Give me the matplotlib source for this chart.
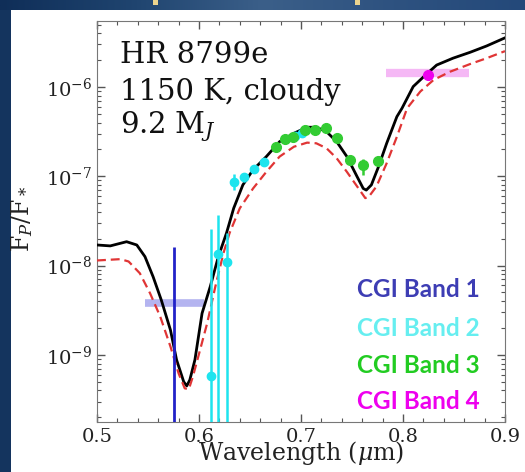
import matplotlib
matplotlib.use("Agg")
import matplotlib.pyplot as plt
from matplotlib.patches import Rectangle
from matplotlib.ticker import MultipleLocator, LogLocator, NullFormatter
import numpy as np

# model spectra (wavelength in micron, Fp/F*)
model_wl = [0.500, 0.513, 0.529, 0.539, 0.547, 0.555, 0.563, 0.572, 0.578, 0.585,
            0.588, 0.591, 0.596, 0.603, 0.611, 0.619, 0.627, 0.634, 0.643, 0.653,
            0.666, 0.679, 0.693, 0.706, 0.715, 0.725, 0.735, 0.745, 0.755, 0.761,
            0.764, 0.769, 0.776, 0.784, 0.794, 0.799, 0.810, 0.822, 0.833, 0.849,
            0.866, 0.882, 0.900]
model_flux = [1.70e-8, 1.66e-8, 1.85e-8, 1.70e-8, 1.26e-8, 7.5e-9, 4.12e-9, 1.90e-9, 8.8e-10, 5.0e-10,
              4.49e-10, 5.24e-10, 8.8e-10, 2.92e-9, 5.8e-9, 1.26e-8, 2.32e-8, 4.38e-8, 8.0e-8, 1.18e-7,
              1.66e-7, 2.44e-7, 3.03e-7, 3.54e-7, 3.54e-7, 3.16e-7, 2.44e-7, 1.66e-7, 9.9e-8, 7.3e-8,
              7.0e-8, 8.0e-8, 1.28e-7, 2.34e-7, 4.65e-7, 5.77e-7, 1.01e-6, 1.36e-6, 1.76e-6, 2.10e-6,
              2.45e-6, 2.88e-6, 3.55e-6]

alt_wl = [0.500, 0.523, 0.531, 0.542, 0.552, 0.562, 0.572, 0.580, 0.586, 0.590,
          0.594, 0.601, 0.608, 0.616, 0.624, 0.630, 0.640, 0.653, 0.666, 0.679,
          0.693, 0.706, 0.715, 0.725, 0.735, 0.745, 0.755, 0.763, 0.766, 0.774,
          0.784, 0.794, 0.804, 0.817, 0.830, 0.846, 0.866, 0.882, 0.900]
alt_flux = [1.14e-8, 1.18e-8, 1.11e-8, 8.2e-9, 4.9e-9, 2.68e-9, 1.24e-9, 6.2e-10, 4.22e-10, 4.12e-10,
            5.7e-10, 1.13e-9, 2.26e-9, 5.8e-9, 1.38e-8, 2.32e-8, 4.38e-8, 7.3e-8, 1.12e-7, 1.66e-7,
            2.14e-7, 2.38e-7, 2.34e-7, 2.06e-7, 1.59e-7, 1.12e-7, 7.7e-8, 5.7e-8, 5.8e-8, 7.7e-8,
            1.40e-7, 2.77e-7, 5.77e-7, 8.9e-7, 1.20e-6, 1.48e-6, 1.81e-6, 2.10e-6, 2.52e-6]

# CGI band 1: upper limit bar and broadband box
band1_wl = [0.5755]
band1_lo = [1e-11]
band1_hi = [1.63e-8]
band1_box_wl = [0.547, 0.605]
band1_box_flux = 3.78e-9

# CGI band 2 points
band2_wl = [0.6114, 0.6189, 0.6272, 0.6343, 0.6441, 0.6539, 0.6637, 0.6843, 0.6941, 0.7007]
band2_flux = [5.85e-10, 1.35e-8, 1.09e-8, 8.7e-8, 9.75e-8, 1.20e-7, 1.46e-7, 2.6e-7, 2.83e-7, 3.03e-7]
band2_lo = [1e-11, 1e-11, 1e-11, 7.0e-8, 8.6e-8, 1.08e-7, 1.33e-7, 2.4e-7, 2.6e-7, 2.8e-7]
band2_hi = [2.57e-8, 3.69e-8, 2.30e-8, 1.05e-7, 1.10e-7, 1.33e-7, 1.60e-7, 2.8e-7, 3.05e-7, 3.25e-7]

# CGI band 3 points
band3_wl = [0.6755, 0.6843, 0.6925, 0.7039, 0.7137, 0.7245, 0.7350, 0.7480, 0.7605, 0.7758]
band3_flux = [2.11e-7, 2.6e-7, 2.78e-7, 3.30e-7, 3.30e-7, 3.44e-7, 2.67e-7, 1.52e-7, 1.34e-7, 1.48e-7]
band3_lo = [1.9e-7, 2.4e-7, 2.55e-7, 3.05e-7, 3.05e-7, 3.15e-7, 2.45e-7, 1.40e-7, 1.03e-7, 1.33e-7]
band3_hi = [2.35e-7, 2.85e-7, 3.0e-7, 3.55e-7, 3.55e-7, 3.7e-7, 2.9e-7, 1.65e-7, 1.55e-7, 1.62e-7]

# CGI band 4
band4_wl = [0.8248]
band4_flux = [1.36e-6]
band4_box_wl = [0.7833, 0.8650]
band4_box_flux = 1.42e-6

band_labels = ["CGI Band 1", "CGI Band 2", "CGI Band 3", "CGI Band 4"]
label_colors = ["#3d3db4", "#66eef0", "#22cc22", "#ee00ee"]

W, H = 525, 472
fig = plt.figure(figsize=(W / 100, H / 100), dpi=100)
fig.patch.set_facecolor("#14345e")

# slide background bits
grad = fig.add_axes([0, 1 - 10 / H, 1, 10 / H])
grad.imshow(np.linspace(0, 1, 256)[None, :], aspect="auto",
            cmap=matplotlib.colors.LinearSegmentedColormap.from_list(
                "bg", ["#0f2e58", "#1f446f", "#3b5f89", "#2e5280", "#24497a"]))
grad.axis("off")
fig.add_artist(Rectangle((11 / W, 0), 1 - 11 / W, 1 - 10 / H, transform=fig.transFigure,
                         facecolor="white", edgecolor="none", zorder=0))
for px in [153, 355]:
    fig.add_artist(Rectangle((px / W, 1 - 5 / H), 5 / W, 5 / H, transform=fig.transFigure,
                             facecolor="#ecd48e", edgecolor="none"))

plt.rcParams["font.family"] = "DejaVu Serif"
plt.rcParams["mathtext.fontset"] = "dejavuserif"

ax = fig.add_axes([97 / W, 1 - 422 / H, 408 / W, 401 / H])
ax.set_yscale("log")
ax.set_xlim(0.5, 0.9)
ax.set_ylim(1.77e-10, 5.48e-6)

ax.plot(model_wl, model_flux, color="black", lw=2.0, zorder=3)
ax.plot(alt_wl, alt_flux, color="#e03535", lw=1.6, ls="--", dashes=(4, 2.2), zorder=3)

ax.hlines(band1_box_flux, band1_box_wl[0], band1_box_wl[1], color="#b4b4f0", lw=5.5, zorder=2)
ax.hlines(band4_box_flux, band4_box_wl[0], band4_box_wl[1], color="#f5b8f5", lw=6, zorder=2)

ax.vlines(band1_wl, band1_lo, band1_hi, color="#2222c8", lw=2.0, zorder=4)

b2 = np.array(band2_flux)
ax.errorbar(band2_wl, band2_flux,
            yerr=[b2 - np.array(band2_lo), np.array(band2_hi) - b2],
            fmt="o", color="#1ee4ee", ms=6, elinewidth=1.8, capsize=0, zorder=5)
b3 = np.array(band3_flux)
ax.errorbar(band3_wl, band3_flux,
            yerr=[b3 - np.array(band3_lo), np.array(band3_hi) - b3],
            fmt="o", color="#33cc33", ms=7, elinewidth=1.8, capsize=0, zorder=6)
ax.plot(band4_wl, band4_flux, "o", color="#ee00ee", ms=7, zorder=6)

ax.xaxis.set_major_locator(MultipleLocator(0.1))
ax.xaxis.set_minor_locator(MultipleLocator(0.02))
ax.yaxis.set_major_locator(LogLocator(base=10, numticks=20))
ax.yaxis.set_minor_locator(LogLocator(base=10, subs=np.arange(2, 10), numticks=20))
ax.yaxis.set_minor_formatter(NullFormatter())
ax.tick_params(which="both", direction="in", top=True, right=True, colors="#555555",
               labelcolor="#222222", labelsize=14)
ax.tick_params(which="major", length=6, width=1)
ax.tick_params(which="minor", length=3, width=0.8)
ax.tick_params(axis="x", pad=4)
for s in ax.spines.values():
    s.set_color("#777777")

tx = 0.056
ax.text(tx, 0.895, "HR 8799e", transform=ax.transAxes, fontsize=21, va="baseline", color="#111111")
ax.text(tx, 0.803, "1150 K, cloudy", transform=ax.transAxes, fontsize=21, va="baseline", color="#111111")
ax.text(tx, 0.721, "9.2 M$_J$", transform=ax.transAxes, fontsize=21, va="baseline", color="#111111")

label_y = [297, 336, 373, 409]
for lab, col, py in zip(band_labels, label_colors, label_y):
    fig.text(480 / W, 1 - py / H, lab, color=col, fontsize=17.5, fontweight="bold",
             family=["Lato", "DejaVu Sans"], ha="right", va="baseline")

fig.text(22 / W, 1 - 219 / H, "F$_P$/F$_*$", rotation=90, fontsize=17, ha="center", va="center",
         color="#222222")
fig.text(301 / W, 1 - 460 / H, "Wavelength ($\\mu$m)", fontsize=17, ha="center", va="baseline",
         color="#222222")

fig.savefig("out.png", dpi=100, facecolor=fig.get_facecolor())
